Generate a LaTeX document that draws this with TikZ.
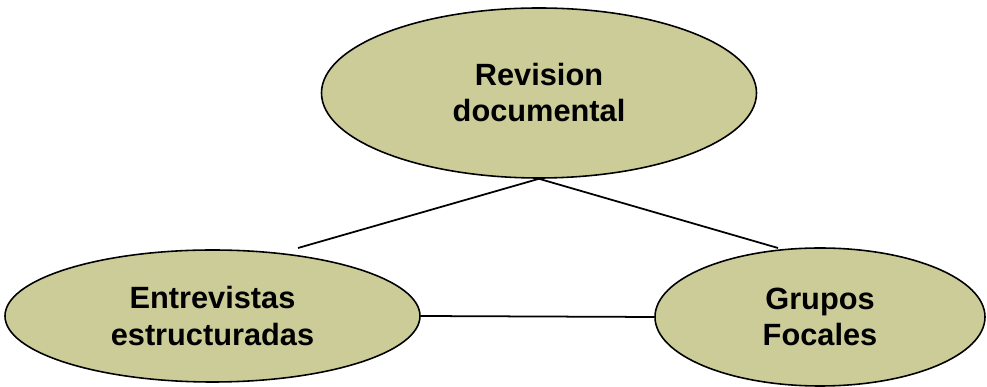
\documentclass[tikz,border=0pt]{standalone}
\usepackage{fontspec}
\setmainfont{Liberation Sans}
\usetikzlibrary{shapes.geometric}
\definecolor{olivepale}{RGB}{204,204,153}

\begin{document}
\begin{tikzpicture}[
    metodo/.style={ellipse,draw=black,line width=0.9pt,fill=olivepale,
      align=center,inner sep=0pt,
      font=\bfseries\fontsize{17.5}{20.5}\selectfont},
    enlace/.style={line width=1pt,black}]
    \useasboundingbox (0,0) rectangle (19.74,7.74);
    \node[metodo,minimum width=8.7cm,minimum height=3.4cm]
      (revision) at (10.78,5.88) {Revision\\documental};
    \node[metodo,minimum width=8.3cm,minimum height=2.64cm]
      (entrevistas) at (4.25,1.42) {Entrevistas\\estructuradas};
    \node[metodo,minimum width=6.6cm,minimum height=2.76cm]
      (grupos) at (16.4,1.40) {Grupos\\Focales};
    \coordinate (finizq) at (5.96,2.78);
    \coordinate (finder) at (15.56,2.78);
    \draw[enlace] (revision.south) -- (finizq);
    \draw[enlace] (revision.south) -- (finder);
    \draw[enlace] (entrevistas.east) -- (grupos.west);
\end{tikzpicture}
\end{document}
